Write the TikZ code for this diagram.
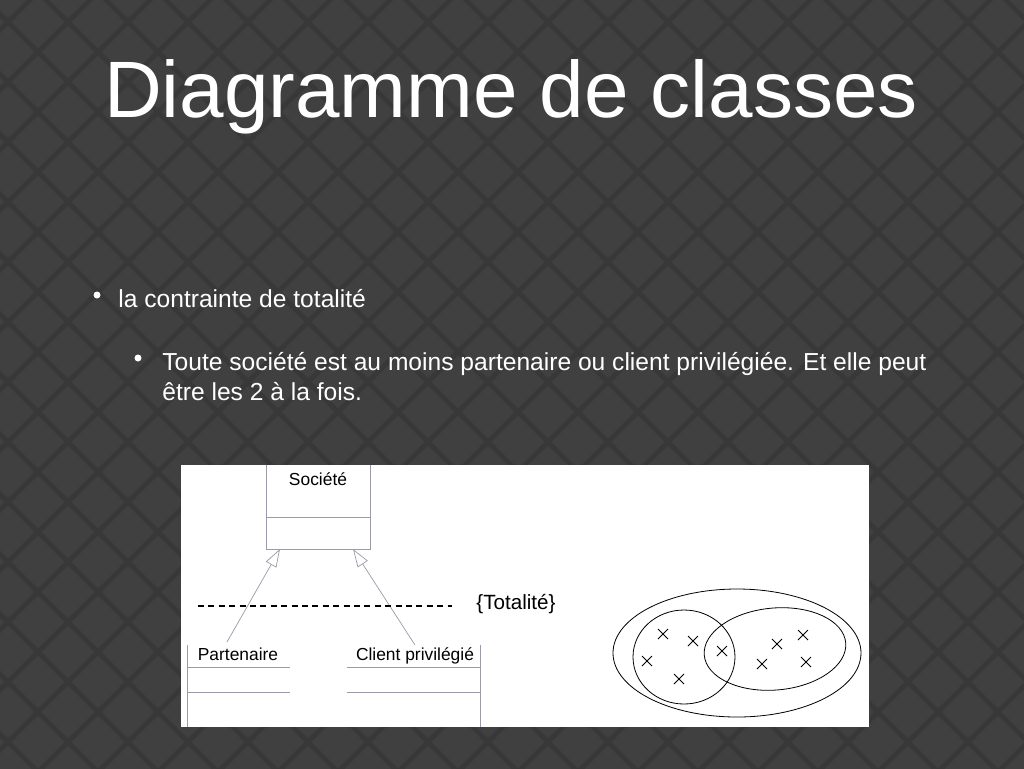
\documentclass[tikz,border=0pt]{standalone}
\usepackage{fontspec}
\setmainfont{Liberation Sans}
\usetikzlibrary{arrows.meta}
\definecolor{slidebg}{HTML}{404040}
\definecolor{slidegrid}{HTML}{383838}
\definecolor{umlgrey}{HTML}{9A9AA8}

\begin{document}
\begin{tikzpicture}[x=0.5pt,y=-0.5pt,
	slidetext/.style={text=white,inner sep=0pt,anchor=base west,font=\fontsize{12.3}{14}\selectfont},
	puce/.style={circle,fill=white,inner sep=0pt,minimum size=3.5pt},
	classname/.style={inner sep=0pt,anchor=base,font=\fontsize{8.7}{10}\selectfont},
	umlline/.style={draw=umlgrey,line width=0.35pt},
	inherit/.style={umlline,-{Triangle[open,length=9pt,width=6pt]}},
	element/.style={line width=0.4pt}]
	\useasboundingbox (0,0) rectangle (1024,768);

	% fond de la diapositive
	\fill[slidebg] (-20,-20) rectangle (1044,788);
	\foreach \c in {10,70,...,1870}
		\draw[slidegrid,line width=2.5pt] (\c,-40) -- (\c-848,808);
	\foreach \c in {-834,-774,...,1086}
		\draw[slidegrid,line width=2.5pt] (\c,-40) -- (\c+848,808);

	% titre et texte
	\node[text=white,inner sep=0pt,anchor=base,font=\fontsize{40}{48}\selectfont] (titre) at (511,117) {Diagramme de classes};
	\node[puce] (puce1) at (97,295) {};
	\node[slidetext] (ligne1) at (118,307) {la contrainte de totalité};
	\node[puce] (puce2) at (138,358) {};
	\node[slidetext] (ligne2) at (162,370) {Toute société est au moins partenaire ou client privilégiée. Et elle peut};
	\node[slidetext] (ligne3) at (162,400) {être les 2 à la fois.};

	% panneau blanc
	\fill[white] (181,465) rectangle (869,727);
	\begin{scope}
		\clip (181,465) rectangle (869,727);

		% classes
		\draw[umlline] (266,455) rectangle (370,549);
		\draw[umlline] (266,517) -- (370,517);
		\node[classname] (societe) at (318,485) {Société};
		\draw[umlline] (187,645) -- (187,727);
		\draw[umlline] (187,667) -- (290,667) (187,692) -- (290,692);
		\node[classname] (partenaire) at (238,660) {Partenaire};
		\draw[umlline] (480,645) -- (480,727);
		\draw[umlline] (347,667) -- (480,667) (347,692) -- (480,692);
		\node[classname] (client) at (415,660) {Client privilégié};

		\coordinate (societeG) at (280,549);
		\coordinate (societeD) at (353,549);
		\coordinate (partenaireH) at (227,642);
		\coordinate (clientH) at (415,645);
		\draw[inherit] (partenaireH) -- (societeG);
		\draw[inherit] (clientH) -- (societeD);

		% contrainte
		\coordinate (tiretA) at (198,606);
		\coordinate (tiretB) at (452,606);
		\draw[dash pattern=on 3pt off 2.2pt,line width=0.6pt] (tiretA) -- (tiretB);
		\node[inner sep=0pt,font=\fontsize{10.3}{12}\selectfont] (contrainte) at (516,604) {\{Totalité\}};

		% ensembles
		\draw[element] (737,653) ellipse [x radius=124, y radius=64];
		\draw[element] (684,657) ellipse [x radius=51, y radius=47];
		\draw[element,rotate around={5:(775,649)}] (775,649) ellipse [x radius=71, y radius=41];
		\foreach \x/\y in {663/634,693/641,647/661,679/679,722/651,777/644,803/635,762/664,806/662}
			\draw[element] (\x-5,\y-5) -- (\x+5,\y+5) (\x-5,\y+5) -- (\x+5,\y-5);
	\end{scope}
\end{tikzpicture}
\end{document}
